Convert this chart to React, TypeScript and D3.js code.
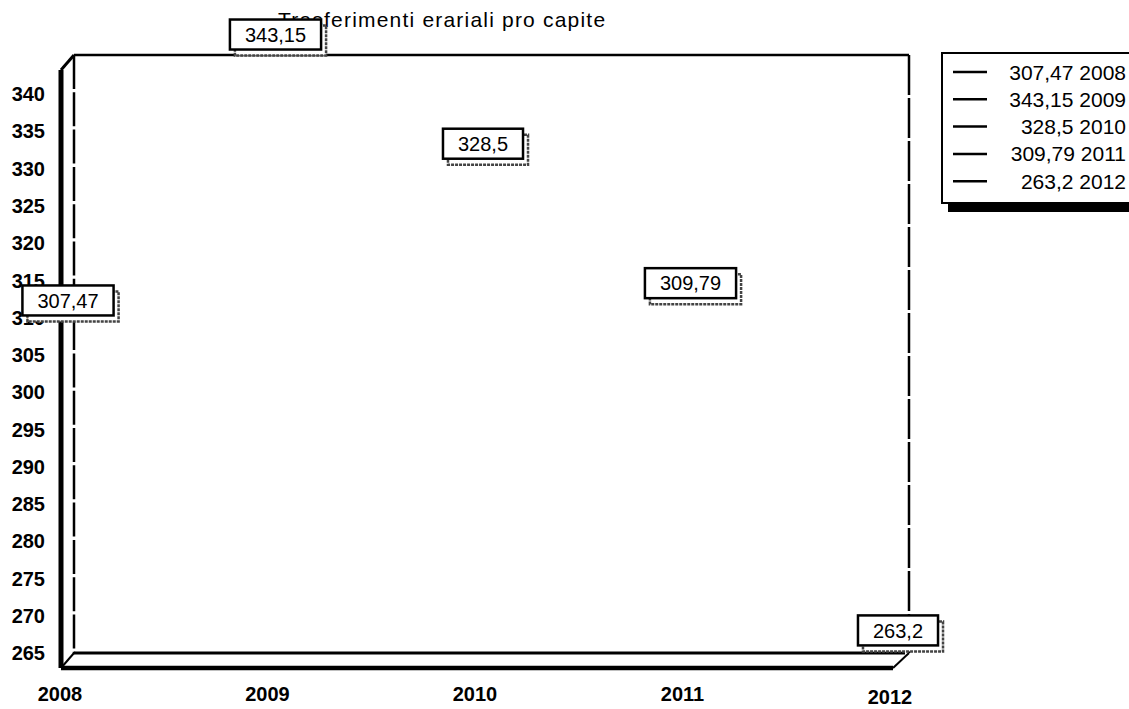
import React from "react";
import * as d3 from "d3";

const years = ["2008", "2009", "2010", "2011", "2012"];
const values = [307.47, 343.15, 328.5, 309.79, 263.2];
const valueLabels = ["307,47", "343,15", "328,5", "309,79", "263,2"];
const yTicks = [265, 270, 275, 280, 285, 290, 295, 300, 305, 310, 315, 320, 325, 330, 335, 340];
const title = "Trasferimenti erariali pro capite";

const W = 1129;
const H = 709;
const FONT = "Liberation Sans, Arial, Helvetica, sans-serif";

export default function App() {
  const x = d3.scalePoint<string>().domain(years).range([60, 890]);
  const y = d3.scaleLinear().domain([265, 340]).range([653, 94]);

  // 3D frame geometry
  const back = { l: 74, t: 55, r: 909, b: 653 };
  const dx = -13, dy = 15;
  const front = { l: back.l + dx, t: back.t + dy, b: back.b + dy, r: back.r - 16 };

  const textW = (s: string) => {
    let w = 0;
    for (const c of s) w += c === "," ? 0.278 : 0.556;
    return w * 20;
  };

  return (
    <div style={{ position: "fixed", left: 0, top: 0, width: W, height: H, overflow: "hidden" }}>
      <svg width={W} height={H} style={{ display: "block", background: "#fff" }} fontFamily={FONT}>
        {/* title (drawn beneath labels) */}
        <text x={278} y={27} fontSize={21} letterSpacing={1.2} fill="#000">
          {title}
        </text>

        {/* back wall */}
        <line x1={back.l} y1={back.t} x2={back.r} y2={back.t} stroke="#000" strokeWidth={2.5} />
        <line x1={back.l} y1={back.t} x2={back.l} y2={back.b} stroke="#000" strokeWidth={2.5} strokeDasharray="34 3.3" />
        <line x1={back.r} y1={back.t} x2={back.r} y2={back.b} stroke="#000" strokeWidth={2.5} strokeDasharray="40 3" />
        <line x1={back.l} y1={back.b} x2={back.r - 4} y2={back.b} stroke="#000" strokeWidth={3} />
        {/* front edges */}
        <line x1={front.l} y1={front.t} x2={front.l} y2={front.b} stroke="#000" strokeWidth={5} />
        <line x1={front.l} y1={front.b} x2={front.r} y2={front.b} stroke="#000" strokeWidth={4.5} />
        <line x1={front.l} y1={front.t} x2={back.l} y2={back.t} stroke="#000" strokeWidth={3} />
        <line x1={front.l} y1={front.b} x2={back.l} y2={back.b} stroke="#000" strokeWidth={2} />
        <line x1={front.r} y1={front.b} x2={back.r} y2={back.b} stroke="#000" strokeWidth={2} />

        {/* y ticks */}
        {yTicks.map((t) => (
          <text key={t} x={45} y={y(t)} dy="0.36em" textAnchor="end" fontSize={20} fontWeight="bold" fill="#000">
            {t}
          </text>
        ))}

        {/* x ticks */}
        {years.map((yr) => (
          <text key={yr} x={x(yr)} y={yr === "2012" ? 697 : 694} dy="0.36em" textAnchor="middle" fontSize={20} fontWeight="bold" fill="#000">
            {yr}
          </text>
        ))}

        {/* data labels */}
        {values.map((v, i) => {
          const cx = (x(years[i]) as number) + 8;
          const cy = y(v) - 36;
          const w = textW(valueLabels[i]) + 30;
          const h = 30;
          return (
            <g key={i}>
              <rect x={cx - w / 2 + 5} y={cy - h / 2 + 6} width={w} height={h} fill="#fff" stroke="#444" strokeWidth={2.5} strokeDasharray="3 1" />
              <rect x={cx - w / 2} y={cy - h / 2} width={w} height={h} fill="#fff" stroke="#000" strokeWidth={2.5} />
              <text x={cx} y={cy} dy="0.36em" textAnchor="middle" fontSize={20} fill="#000">
                {valueLabels[i]}
              </text>
            </g>
          );
        })}

        {/* legend */}
        <rect x={948} y={60} width={190} height={152} fill="#000" />
        <rect x={942} y={53} width={190} height={150} fill="#fff" stroke="#000" strokeWidth={2} />
        {values.map((v, i) => {
          const ly = 72 + i * 27.3;
          return (
            <g key={i}>
              <line x1={953} x2={987} y1={ly} y2={ly} stroke="#000" strokeWidth={2.5} />
              <text x={1126} y={ly} dy="0.36em" textAnchor="end" fontSize={21} fill="#000">
                {valueLabels[i]} {years[i]}
              </text>
            </g>
          );
        })}
      </svg>
    </div>
  );
}
